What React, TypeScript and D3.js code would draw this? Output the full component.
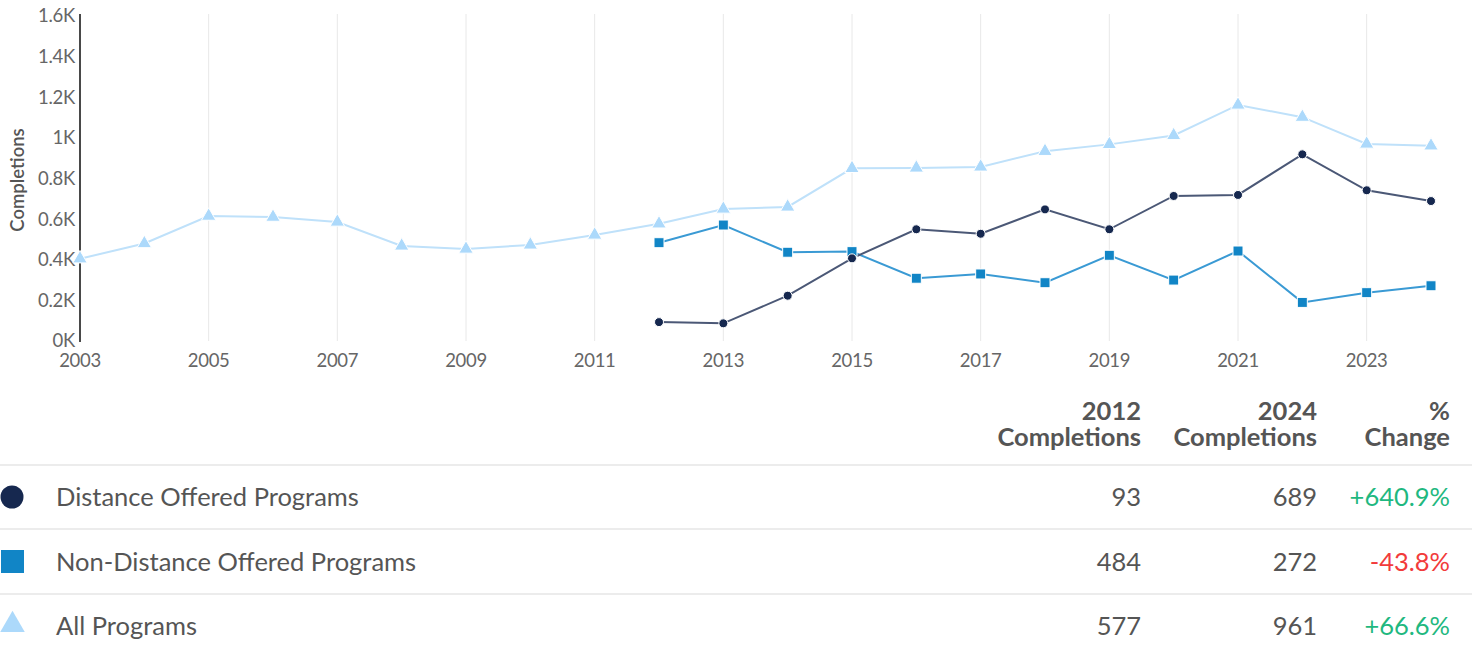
import React from "react";
import * as d3 from "d3";

const years = d3.range(2003, 2025);
const distanceYears = d3.range(2012, 2025);
const distanceValues = [93, 87, 223, 407, 550, 528, 648, 550, 714, 719, 919, 742, 689];
const nonDistanceValues = [484, 571, 437, 440, 309, 330, 287, 422, 300, 443, 190, 238, 272];
const allValues = [405, 480, 615, 610, 586, 468, 453, 473, 522, 577, 650, 660, 850, 852, 857, 934, 968, 1012, 1162, 1102, 970, 961];
const yTicks = [0, 200, 400, 600, 800, 1000, 1200, 1400, 1600];
const yTickLabels = ["0K", "0.2K", "0.4K", "0.6K", "0.8K", "1K", "1.2K", "1.4K", "1.6K"];
const xTickYears = [2003, 2005, 2007, 2009, 2011, 2013, 2015, 2017, 2019, 2021, 2023];

const tableSeries = ["Distance Offered Programs", "Non-Distance Offered Programs", "All Programs"];
const table2012 = ["93", "484", "577"];
const table2024 = ["689", "272", "961"];
const tableChange = ["+640.9%", "-43.8%", "+66.6%"];

const FONT = "Lato, 'Open Sans', sans-serif";
const COL = {
  dist: "#16284f",
  distLine: "#4b5876",
  non: "#1185c6",
  nonLine: "#3a9ad4",
  all: "#acd9fb",
  allLine: "#bfe1fa",
};

export default function App() {
  const x = d3.scaleLinear().domain([2003, 2024]).range([80, 1431]);
  const y = d3.scaleLinear().domain([0, 1600]).range([341, 16]);
  const line = d3
    .line<[number, number]>()
    .x((d) => x(d[0]))
    .y((d) => y(d[1]));

  const allPts: [number, number][] = years.map((yr, i) => [yr, allValues[i]]);
  const distPts: [number, number][] = distanceYears.map((yr, i) => [yr, distanceValues[i]]);
  const nonPts: [number, number][] = distanceYears.map((yr, i) => [yr, nonDistanceValues[i]]);

  const tri = d3.symbol().type(d3.symbolTriangle).size(90)();
  const legendTri = d3.symbol().type(d3.symbolTriangle).size(260)();

  const rowY = [497, 562, 626];
  const sepY = [465, 529, 594];
  const changeColor = (s: string) => (s.startsWith("-") ? "#f23b3b" : "#1fb880");

  return (
    <svg
      width={1472}
      height={653}
      style={{ position: "absolute", left: 0, top: 0, fontFamily: FONT }}
    >
      <rect width={1472} height={653} fill="#fff" />
      {/* vertical grid */}
      {xTickYears.map((yr) => (
        <line key={yr} x1={x(yr)} x2={x(yr)} y1={14} y2={341} stroke="#e8e8e8" strokeWidth={1} />
      ))}
      {/* y axis line */}
      <line x1={80} x2={80} y1={14} y2={342} stroke="#111" strokeWidth={1.5} />
      {/* y ticks */}
      {yTicks.map((v, i) => (
        <text key={v} x={75} y={y(v)} dy="0.35em" textAnchor="end" fontSize={18.5} fill="#666" letterSpacing={-0.3}>
          {yTickLabels[i]}
        </text>
      ))}
      {/* x ticks */}
      {xTickYears.map((yr) => (
        <text key={yr} x={x(yr)} y={361} dy="0.35em" textAnchor="middle" fontSize={18.5} fill="#666" letterSpacing={-0.3}>
          {yr}
        </text>
      ))}
      <text
        transform="translate(18,180) rotate(-90)"
        textAnchor="middle"
        dy="0.35em"
        fontSize={18.5}
        fontWeight={600}
        fill="#555"
      >
        Completions
      </text>

      {/* lines */}
      <path d={line(allPts) || ""} fill="none" stroke={COL.allLine} strokeWidth={2} />
      <path d={line(nonPts) || ""} fill="none" stroke={COL.nonLine} strokeWidth={2} />
      <path d={line(distPts) || ""} fill="none" stroke={COL.distLine} strokeWidth={2} />

      {/* markers */}
      {allPts.map(([yr, v]) => (
        <path key={"a" + yr} d={tri || ""} transform={`translate(${x(yr)},${y(v)})`} fill={COL.all} stroke="#fff" strokeWidth={1} />
      ))}
      {nonPts.map(([yr, v]) => (
        <rect key={"n" + yr} x={x(yr) - 5} y={y(v) - 5} width={10} height={10} fill={COL.non} stroke="#fff" strokeWidth={1} />
      ))}
      {distPts.map(([yr, v]) => (
        <circle key={"d" + yr} cx={x(yr)} cy={y(v)} r={4.5} fill={COL.dist} stroke="#fff" strokeWidth={1} />
      ))}

      {/* table header */}
      {[
        [1141, "2012", "Completions"],
        [1317, "2024", "Completions"],
        [1450, "%", "Change"],
      ].map(([cx, a, b]) => (
        <g key={String(cx)} fontSize={25.5} fontWeight={700} fill="#555" textAnchor="end">
          <text x={Number(cx)} y={411} dy="0.35em">{a}</text>
          <text x={Number(cx)} y={437} dy="0.35em">{b}</text>
        </g>
      ))}
      {sepY.map((sy) => (
        <line key={sy} x1={0} x2={1472} y1={sy} y2={sy} stroke="#ececec" strokeWidth={2} />
      ))}

      {/* legend markers */}
      <circle cx={12} cy={rowY[0]} r={11.5} fill={COL.dist} />
      <rect x={1} y={rowY[1] - 12} width={23} height={23} fill={COL.non} />
      <path d={legendTri || ""} transform={`translate(12.5,${rowY[2] - 1}) scale(1.0)`} fill={COL.all} />

      {tableSeries.map((s, i) => (
        <g key={s} fontSize={25.5} fill="#555">
          <text x={56} y={rowY[i]} dy="0.35em">{s}</text>
          <text x={1141} y={rowY[i]} dy="0.35em" textAnchor="end">{table2012[i]}</text>
          <text x={1317} y={rowY[i]} dy="0.35em" textAnchor="end">{table2024[i]}</text>
          <text x={1450} y={rowY[i]} dy="0.35em" textAnchor="end" fill={changeColor(tableChange[i])}>
            {tableChange[i]}
          </text>
        </g>
      ))}
    </svg>
  );
}
